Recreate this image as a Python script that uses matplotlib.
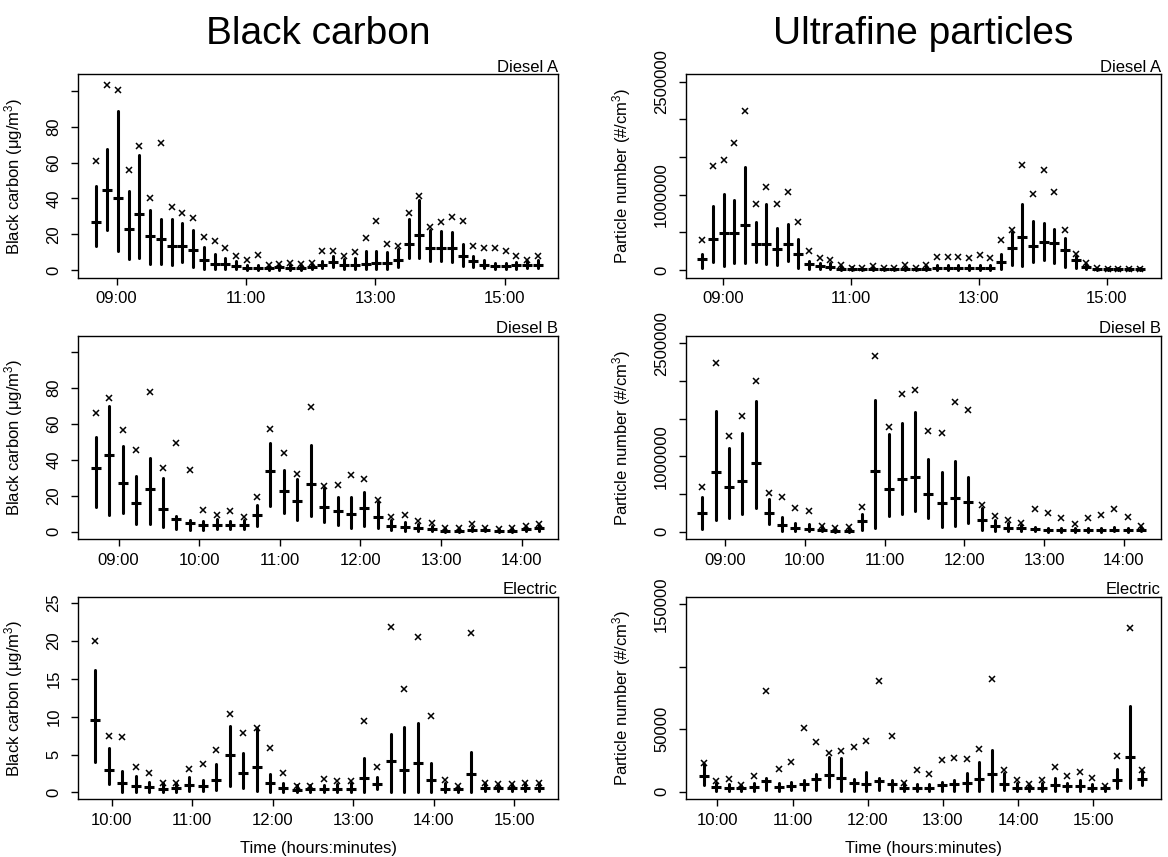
import numpy as np
import matplotlib
matplotlib.use('Agg')
import matplotlib.pyplot as plt

plt.rcParams['font.family'] = ['Liberation Sans', 'DejaVu Sans']
plt.rcParams['mathtext.fontset'] = 'custom'
plt.rcParams['mathtext.rm'] = 'Liberation Sans'
plt.rcParams['mathtext.it'] = 'Liberation Sans:italic'

# bin times (hh:mm)
times_a = ['08:41', '08:51', '09:01', '09:11', '09:21', '09:31', '09:41', '09:51', '10:01', '10:11',
           '10:21', '10:31', '10:41', '10:51', '11:01', '11:11', '11:21', '11:31', '11:41', '11:51',
           '12:01', '12:11', '12:21', '12:31', '12:41', '12:51', '13:01', '13:11', '13:21', '13:31',
           '13:41', '13:51', '14:01', '14:11', '14:21', '14:31', '14:41', '14:51', '15:01', '15:11',
           '15:21', '15:31']
times_b = ['08:43', '08:53', '09:03', '09:13', '09:23', '09:33', '09:43', '09:53', '10:03', '10:13',
           '10:23', '10:33', '10:43', '10:53', '11:03', '11:13', '11:23', '11:33', '11:43', '11:53',
           '12:03', '12:13', '12:23', '12:33', '12:43', '12:53', '13:03', '13:13', '13:23', '13:33',
           '13:43', '13:53', '14:03', '14:13']
times_e_bc = ['09:48', '09:58', '10:08', '10:18', '10:28', '10:38', '10:48', '10:58', '11:08', '11:18',
              '11:28', '11:38', '11:48', '11:58', '12:08', '12:18', '12:28', '12:38', '12:48', '12:58',
              '13:08', '13:18', '13:28', '13:38', '13:48', '13:58', '14:08', '14:18', '14:28', '14:38',
              '14:48', '14:58', '15:08', '15:18']
times_e_ufp = ['09:49', '09:59', '10:09', '10:19', '10:29', '10:39', '10:49', '10:59', '11:09', '11:19',
               '11:29', '11:39', '11:49', '11:59', '12:09', '12:19', '12:29', '12:39', '12:49', '12:59',
               '13:09', '13:19', '13:29', '13:39', '13:49', '13:59', '14:09', '14:19', '14:29', '14:39',
               '14:49', '14:59', '15:09', '15:19', '15:29', '15:39']

# Black carbon, Diesel A
bc_a_med = [26.7, 44.6, 40.0, 23.1, 31.5, 18.9, 17.4, 13.3, 13.7, 11.1, 5.6, 3.5, 3.5, 2.4, 1.3, 1.3, 1.1,
            1.5, 1.1, 1.1, 2.0, 3.1, 4.6, 3.1, 3.1, 3.5, 3.9, 3.9, 5.9, 14.8, 19.8, 12.2, 12.2, 12.2, 8.1,
            5.0, 3.1, 2.2, 2.2, 2.6, 3.1, 3.1]
bc_a_lo = [13.3, 22.6, 10.4, 6.3, 6.9, 3.5, 3.5, 2.6, 4.4, 1.7, 0.4, 0.4, 0.4, 0.5, 0.3, 0.3, 0.2, 0.3,
           0.2, 0.2, 0.5, 1.2, 1.5, 0.8, 0.8, 0.8, 0.8, 0.8, 1.5, 6.5, 6.9, 5.0, 5.0, 4.4, 2.2, 1.5, 1.0,
           0.5, 0.5, 0.8, 1.0, 1.0]
bc_a_hi = [47.0, 67.4, 88.7, 44.0, 64.3, 33.3, 28.7, 28.7, 26.3, 22.2, 13.0, 9.1, 6.9, 5.0, 3.1, 3.1, 2.5,
           3.0, 3.1, 3.0, 3.5, 5.2, 7.8, 6.0, 6.5, 10.4, 10.9, 10.2, 11.9, 28.5, 39.0, 22.2, 21.9, 21.1,
           14.3, 8.1, 5.9, 4.0, 4.0, 4.5, 5.0, 5.9]
bc_a_max = [61.0, 103.5, 100.7, 55.7, 69.3, 40.0, 70.7, 35.2, 31.7, 29.3, 18.3, 16.1, 12.6, 8.1, 5.7, 8.5,
            3.1, 3.5, 4.0, 3.5, 4.0, 10.4, 10.9, 8.1, 10.2, 18.0, 27.4, 14.6, 13.3, 31.9, 41.5, 24.1,
            27.0, 29.6, 27.2, 13.7, 12.4, 12.4, 10.9, 7.8, 5.6, 7.8]

# Ultrafine particles, Diesel A
uf_a_med = [141600, 407000, 486700, 495600, 593000, 340700, 340700, 283200, 340700, 208000, 75200, 53100,
            44200, 17700, 8800, 8800, 8800, 8800, 8800, 13300, 8800, 17700, 31000, 31000, 31000, 26500,
            26500, 26500, 106200, 292000, 442500, 318600, 371700, 362900, 261100, 132800, 44200, 8800,
            8800, 8800, 8800, 8800]
uf_a_lo = [31000, 106000, 53000, 97300, 88500, 110600, 75200, 66400, 119500, 31000, 17700, 13300, 8800,
           2000, 0, 0, 0, 0, 0, 1000, 0, 2000, 6000, 6000, 6000, 5000, 5000, 5000,
           17700, 66400, 53100, 106200, 132800, 88500, 39800, 26500, 8800, 0, 0, 0, 0, 0]
uf_a_hi = [216800, 849600, 1013000, 933700, 1371800, 641600, 880600, 557500, 606200, 407100, 119500,
           97300, 88500, 60000, 35000, 30000, 40000, 30000, 30000, 45000, 30000, 50000, 70000, 70000,
           70000, 65000, 65000, 65000, 216800, 504500, 880600, 650500, 619500, 539900, 429200, 190000,
           75000, 30000, 28000, 28000, 28000, 28000]
uf_a_max = [393800, 1380600, 1464700, 1690400, 2110700, 871700, 1101800, 871700, 1039900, 641600, 247800,
            163700, 132700, 66400, 31000, 22000, 53100, 26500, 26500, 70800, 26500, 70800, 172600,
            172600, 172600, 159300, 194700, 159300, 402700, 526600, 1389500, 1013300, 1327500, 1039900,
            531000, 208000, 88500, 26500, 15000, 15000, 15000, 15000]

# Black carbon, Diesel B
bc_b_med = [35.4, 42.6, 27.0, 16.2, 23.8, 12.7, 6.9, 4.7, 3.7, 3.9, 3.7, 3.9, 9.5, 33.7, 22.5, 17.1, 26.4,
            14.0, 11.4, 9.7, 13.2, 8.4, 3.4, 2.8, 2.0, 1.5, 0.7, 0.7, 1.1, 0.9, 0.7, 0.7, 1.3, 2.0]
bc_b_lo = [13.6, 9.5, 10.2, 4.1, 4.3, 2.4, 1.5, 1.0, 1.1, 1.3, 1.3, 1.8, 3.4, 14.5, 10.4, 6.5, 8.8, 5.6,
           3.7, 2.0, 3.0, 2.0, 0.8, 0.6, 0.4, 0.3, 0.1, 0.1, 0.2, 0.2, 0.1, 0.1, 0.3, 0.5]
bc_b_hi = [52.9, 70.0, 48.0, 30.9, 41.2, 30.0, 8.9, 6.7, 5.8, 7.1, 6.1, 6.7, 14.9, 49.2, 34.6, 29.6, 48.4,
           24.2, 19.2, 19.6, 22.0, 16.4, 6.5, 5.4, 4.3, 3.4, 2.0, 2.0, 2.8, 2.0, 1.6, 2.0, 2.6, 3.5]
bc_b_max = [65.9, 74.5, 56.4, 45.3, 77.7, 35.6, 49.5, 34.3, 11.9, 9.1, 11.5, 8.2, 19.6, 57.0, 43.9, 32.2,
            69.3, 25.3, 25.9, 31.8, 29.2, 17.9, 8.4, 9.5, 6.0, 4.7, 2.0, 2.0, 4.1, 2.0, 1.5, 2.0, 3.4, 4.5]

# Ultrafine particles, Diesel B
uf_b_med = [244200, 790300, 595000, 674900, 914600, 248600, 88800, 44400, 35500, 22200, 13300, 13300,
            142100, 799200, 568300, 697100, 723700, 501700, 381800, 444000, 399600, 151000, 75500, 48800,
            44400, 31000, 22200, 22200, 22200, 22200, 22200, 26600, 22200, 26600]
uf_b_lo = [35500, 155400, 182000, 230900, 315200, 102100, 13300, 8800, 8800, 4400, 2000, 2000, 22200,
           48800, 213100, 230900, 279700, 186500, 66600, 79900, 115400, 22200, 8800, 8800, 6000, 4400,
           3000, 3000, 3000, 3000, 3000, 4000, 3000, 4000]
uf_b_hi = [457300, 1607300, 1105600, 1314200, 1731600, 435100, 190900, 111000, 97700, 75000, 45000,
           55000, 235300, 1744900, 1296500, 1447400, 1585100, 959000, 785900, 941300, 723700, 319700,
           159800, 115400, 88800, 66600, 48800, 48800, 53300, 48800, 53300, 57700, 53300, 57700]
uf_b_max = [590500, 2237800, 1265400, 1531800, 1993600, 515000, 457300, 319700, 270800, 80000, 48800,
            57700, 324100, 2326600, 1394200, 1829300, 1873700, 1332000, 1305400, 1722700, 1620600, 359600,
            204200, 155400, 115400, 297500, 253100, 182000, 102100, 177600, 226400, 301900, 199800, 71000]

# Black carbon, Electric
bc_e_med = [9.6, 3.0, 1.2, 0.8, 0.75, 0.5, 0.6, 1.0, 0.85, 1.7, 4.9, 2.6, 3.4, 1.2, 0.6, 0.35, 0.5, 0.5,
            0.5, 0.5, 1.95, 1.1, 4.1, 2.9, 3.9, 1.7, 0.5, 0.45, 2.4, 0.6, 0.6, 0.6, 0.6, 0.6]
bc_e_lo = [4.0, 1.1, 0.0, 0.0, 0.1, 0.1, 0.1, 0.2, 0.2, 0.3, 0.9, 0.6, 0.2, 0.0, 0.1, 0.0, 0.1, 0.1, 0.1,
           0.1, 0.0, 0.4, 0.0, 0.0, 0.1, 0.1, 0.1, 0.1, 0.1, 0.2, 0.2, 0.2, 0.2, 0.2]
bc_e_hi = [16.1, 5.9, 2.8, 2.2, 1.4, 1.2, 1.2, 2.1, 1.6, 3.8, 8.7, 5.2, 8.5, 2.4, 1.2, 1.0, 1.0, 1.0, 1.1,
           1.2, 4.6, 2.1, 7.7, 8.6, 9.1, 3.9, 1.2, 0.9, 5.3, 1.2, 1.1, 1.1, 1.2, 1.2]
bc_e_max = [19.9, 7.5, 7.3, 3.4, 2.6, 1.2, 1.2, 3.1, 3.8, 5.6, 10.3, 7.8, 8.5, 5.9, 2.6, 0.8, 0.9, 1.8,
            1.5, 1.5, 9.4, 3.3, 21.8, 13.6, 20.5, 10.1, 1.6, 0.9, 21.0, 1.2, 1.1, 1.1, 1.2, 1.3]

# Ultrafine particles, Electric
uf_e_med = [12500, 3500, 2900, 2900, 3500, 8500, 3700, 4800, 6100, 9900, 13600, 11200, 6700, 6400, 8500,
            6400, 3200, 3200, 2700, 5100, 5900, 7200, 10400, 14100, 6400, 3200, 2700, 3200, 5100, 4300,
            4500, 3200, 2700, 9300, 28000, 9900]
uf_e_lo = [5300, 1000, 800, 800, 1000, 1300, 1000, 1500, 1500, 1300, 3500, 1000, 1000, 1000, 1300, 1000,
           800, 800, 700, 1000, 1000, 1000, 1000, 1000, 1300, 800, 700, 800, 1000, 1000, 1000, 800, 700,
           2700, 2700, 5300]
uf_e_hi = [22100, 6700, 5900, 5300, 6900, 11200, 6900, 7500, 9300, 14400, 27700, 26900, 9900, 15500,
           11200, 9100, 6900, 6400, 5900, 8000, 9300, 14700, 23700, 33800, 15200, 6700, 5300, 6700, 11200,
           7200, 9300, 6400, 4800, 18100, 68700, 17000]
uf_e_max = [23400, 8800, 10400, 5300, 12500, 81000, 18600, 24000, 50900, 39700, 31200, 33000, 36200,
            41000, 88700, 44800, 7200, 17300, 14400, 25600, 27400, 26400, 34600, 90600, 17600, 9600, 6400,
            9600, 19700, 12800, 16000, 11200, 4800, 28500, 131300, 17800]

hours_a = [9, 11, 13, 15]
hours_b = [9, 10, 11, 12, 13, 14]
hours_e = [10, 11, 12, 13, 14, 15]

BC_LABEL = 'Black carbon (\u03bcg/m$^{3}$)'
UF_LABEL = 'Particle number (#/cm$^{3}$)'
FS = 12


def to_hours(times):
    return np.array([int(t[:2]) + int(t[3:]) / 60.0 for t in times])


def draw_panel(ax, times, med, lo, hi, mx, xlim, ylim, hours, yticks, yticklabels, name, ylabel):
    x = to_hours(times)
    ax.vlines(x, lo, hi, color='black', linewidth=2.2, capstyle='round', zorder=2)
    ax.plot(x, med, linestyle='none', marker='_', markersize=7.8, markeredgewidth=2.2,
            color='black', zorder=3)
    ax.plot(x, mx, linestyle='none', marker='x', markersize=3.8, markeredgewidth=1.1,
            color='black', zorder=3)
    ax.set_xlim(xlim)
    ax.set_ylim(ylim)
    ax.set_xticks(hours)
    ax.set_xticklabels(['%02d:00' % h for h in hours], fontsize=FS)
    ax.set_yticks(yticks)
    ax.set_yticklabels(yticklabels, rotation=90, va='center', fontsize=FS)
    ax.tick_params(axis='both', direction='out', length=5, width=1, color='black')
    ax.tick_params(axis='x', pad=4.5)
    ax.tick_params(axis='y', pad=7)
    for s in ax.spines.values():
        s.set_linewidth(1.0)
        s.set_color('black')
    ax.text(1.0, 1.012, name, transform=ax.transAxes, ha='right', va='baseline', fontsize=FS)
    ax.set_ylabel(ylabel, fontsize=FS)
    ax.yaxis.set_label_coords(-0.111, 0.5)


fig = plt.figure(figsize=(11.68, 8.57), dpi=100)

lx, lw = 0.0670, 0.4107
rx, rw = 0.5871, 0.4067
rows = [(0.6760, 0.2373), (0.3707, 0.2376), (0.0673, 0.2364)]

bc_ticks_d = [0, 20, 40, 60, 80, 100]
bc_labels_d = ['0', '20', '40', '60', '80', '']
uf_ticks_d = [0, 500000, 1000000, 1500000, 2000000, 2500000]
uf_labels_d = ['0', '', '1000000', '', '', '2500000']
bc_ticks_e = [0, 5, 10, 15, 20, 25]
bc_labels_e = ['0', '5', '10', '15', '20', '25']
uf_ticks_e = [0, 50000, 100000, 150000]
uf_labels_e = ['0', '50000', '', '150000']

ax1 = fig.add_axes([lx, rows[0][0], lw, rows[0][1]])
draw_panel(ax1, times_a, bc_a_med, bc_a_lo, bc_a_hi, bc_a_max, (8.406, 15.826), (-4.2, 109.2),
           hours_a, bc_ticks_d, bc_labels_d, 'Diesel A', BC_LABEL)
ax2 = fig.add_axes([rx, rows[0][0], rw, rows[0][1]])
draw_panel(ax2, times_a, uf_a_med, uf_a_lo, uf_a_hi, uf_a_max, (8.422, 15.844), (-100000, 2600000),
           hours_a, uf_ticks_d, uf_labels_d, 'Diesel A', UF_LABEL)
ax3 = fig.add_axes([lx, rows[1][0], lw, rows[1][1]])
draw_panel(ax3, times_b, bc_b_med, bc_b_lo, bc_b_hi, bc_b_max, (8.499, 14.45), (-4.2, 109.2),
           hours_b, bc_ticks_d, bc_labels_d, 'Diesel B', BC_LABEL)
ax4 = fig.add_axes([rx, rows[1][0], rw, rows[1][1]])
draw_panel(ax4, times_b, uf_b_med, uf_b_lo, uf_b_hi, uf_b_max, (8.507, 14.464), (-100000, 2600000),
           hours_b, uf_ticks_d, uf_labels_d, 'Diesel B', UF_LABEL)
ax5 = fig.add_axes([lx, rows[2][0], lw, rows[2][1]])
draw_panel(ax5, times_e_bc, bc_e_med, bc_e_lo, bc_e_hi, bc_e_max, (9.586, 15.541), (-0.9, 25.8),
           hours_e, bc_ticks_e, bc_labels_e, 'Electric', BC_LABEL)
ax6 = fig.add_axes([rx, rows[2][0], rw, rows[2][1]])
draw_panel(ax6, times_e_ufp, uf_e_med, uf_e_lo, uf_e_hi, uf_e_max, (9.580, 15.896), (-6000, 156000),
           hours_e, uf_ticks_e, uf_labels_e, 'Electric', UF_LABEL)

for ax in (ax5, ax6):
    ax.set_xlabel('Time (hours:minutes)', fontsize=FS)
    ax.xaxis.set_label_coords(0.5, -0.205)

fig.text((78.3 + 558) / 2 / 1168, 1 - 44 / 857, 'Black carbon', ha='center', va='baseline', fontsize=28)
fig.text((685.7 + 1160.7) / 2 / 1168, 1 - 44 / 857, 'Ultrafine particles', ha='center', va='baseline',
         fontsize=28)

fig.savefig('out.png', dpi=100)
